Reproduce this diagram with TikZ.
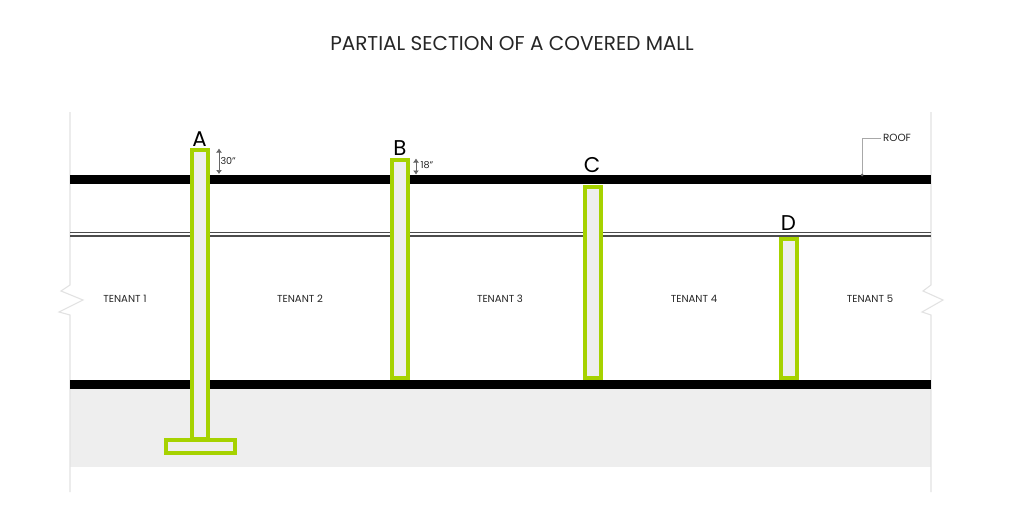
\documentclass[tikz,border=0pt]{standalone}
\usepackage{fontspec}
\setmainfont{Poppins}
\usetikzlibrary{arrows.meta}
\definecolor{lime}{HTML}{A6D200}
\definecolor{fillgrey}{HTML}{EEEEEE}
\definecolor{edgegrey}{HTML}{E2E2E2}
\definecolor{leadgrey}{HTML}{A8A8A8}
\tikzset{
  every node/.style={inner sep=0pt,outer sep=0pt,text=black!85},
  colbox/.style={draw=lime,line width=3pt,fill=fillgrey},
  slabbar/.style={fill=black},
  edgeline/.style={draw=edgegrey,line width=0.8pt},
  ttl/.style={font=\fontsize{15pt}{17pt}\selectfont},
  tenant/.style={font=\fontsize{7.6pt}{9pt}\selectfont},
  letter/.style={font=\fontsize{16pt}{18pt}\selectfont,text=black},
  small/.style={font=\fontsize{7.2pt}{9pt}\selectfont},
  roofsty/.style={font=\fontsize{7.8pt}{9pt}\selectfont},
  dimarrow/.style={draw=black!60,line width=0.5pt,{Latex[length=3pt,width=4.5pt]}-{Latex[length=3pt,width=4.5pt]}},
  leader/.style={draw=leadgrey,line width=0.7pt},
}
\begin{document}
\begin{tikzpicture}[x=0.75pt,y=-0.75pt]
\useasboundingbox (0,0) rectangle (1024,511);
\fill[white] (0,0) rectangle (1024,511);
\fill[fillgrey] (70,389) rectangle (931,467);
% edges with breaks
\draw[edgeline] (70,112) -- (70,285) -- (61,291) -- (83,300) -- (59,312) -- (70,315) -- (70,492);
\draw[edgeline] (931,112) -- (931,285) -- (923,291) -- (943,300) -- (922,312) -- (931,315) -- (931,492);
% slabs
\fill[slabbar] (70,175) rectangle (931,184);
\fill[slabbar] (70,380) rectangle (931,389);
\draw[black!70,line width=1pt] (70,232.5) -- (931,232.5);
\draw[black!70,line width=1pt] (70,236) -- (931,236);
% columns
\draw[colbox] (192,150) rectangle (208,439);
\draw[colbox] (165.5,439.5) rectangle (234.5,453);
\draw[colbox] (392,160) rectangle (408,378);
\draw[colbox] (585,186.5) rectangle (600.5,378);
\draw[colbox] (781,239) rectangle (796.5,378);
% text
\node[ttl] (title) at (512,43.5) {PARTIAL SECTION OF A COVERED MALL};
\node[letter] (la) at (199.5,139) {A};
\node[letter] (lb) at (400,148) {B};
\node[letter] (lc) at (592,165.5) {C};
\node[letter] (ld) at (788.5,223) {D};
\node[tenant] (t1) at (125,299) {TENANT 1};
\node[tenant] (t2) at (300,299) {TENANT 2};
\node[tenant] (t3) at (500,299) {TENANT 3};
\node[tenant] (t4) at (694,299) {TENANT 4};
\node[tenant] (t5) at (870,299) {TENANT 5};
\node[small,anchor=west] (d30) at (220.5,160.5) {30"};
\node[small,anchor=west] (d18) at (420.5,165.5) {18"};
\node[roofsty,anchor=west] (roof) at (883,138) {ROOF};
% dimensions
\coordinate (a1) at (219,148.5);
\coordinate (a2) at (219,174);
\coordinate (b1) at (416,158.5);
\coordinate (b2) at (416,174.5);
\draw[dimarrow] (a1) -- (a2);
\draw[dimarrow] (b1) -- (b2);
% leader
\coordinate (rf) at (862,175);
\draw[leader] (roof.west) ++(-2,0) -- (862,138) -- (rf);
\fill[black!60] (rf) circle (1.5);
\end{tikzpicture}
\end{document}
